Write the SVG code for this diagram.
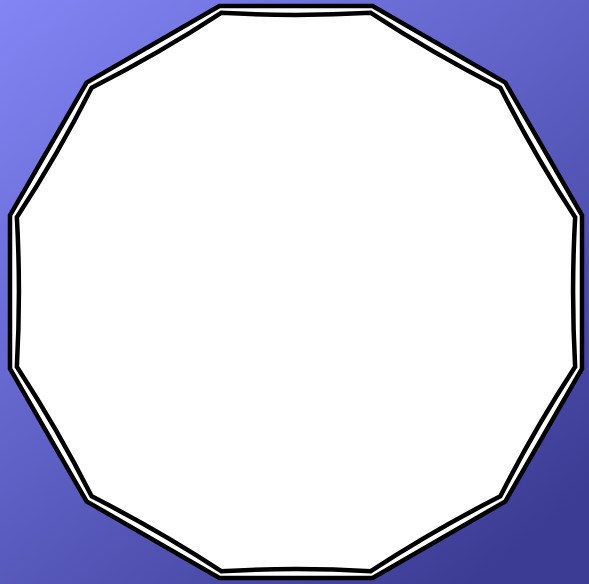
<svg xmlns="http://www.w3.org/2000/svg" width="589" height="584" viewBox="0 0 589 584">
  <defs>
    <linearGradient id="bg" x1="0" y1="0" x2="0.8" y2="1">
      <stop offset="0" stop-color="#8385f5"/>
      <stop offset="0.5" stop-color="#5f61c6"/>
      <stop offset="1" stop-color="#3c3c94"/>
    </linearGradient>
    <style>
      .edge { stroke: #000; stroke-width: 4.5; stroke-linejoin: miter; }
    </style>
  </defs>
  <rect width="589" height="584" fill="url(#bg)"/>
  <g id="outer-dodecagon">
    <polygon class="edge" fill="#fff" points="582,215.36 505.37,82.63 372.64,6 219.36,6 86.63,82.63 10,215.36 10,368.64 86.63,501.37 219.36,578 372.64,578 505.37,501.37 582,368.64"/>
  </g>
  <g id="inner-dodecagon">
    <path class="edge" fill="none" d="M575.15,217.2 Q534.16,154.5 500.35,87.65 Q433.5,53.84 370.8,12.85 Q296,17 221.2,12.85 Q158.5,53.84 91.65,87.65 Q57.84,154.5 16.85,217.2 Q21,292 16.85,366.8 Q57.84,429.5 91.65,496.35 Q158.5,530.16 221.2,571.15 Q296,567 370.8,571.15 Q433.5,530.16 500.35,496.35 Q534.16,429.5 575.15,366.8 Q571,292 575.15,217.2 Z"/>
  </g>
</svg>
